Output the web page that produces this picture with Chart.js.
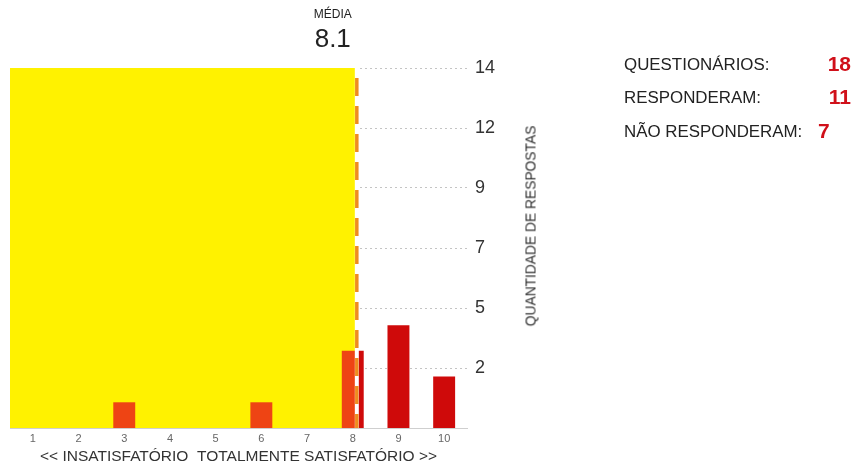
<!DOCTYPE html>
<html>
<head>
<meta charset="utf-8">
<script src="https://cdn.jsdelivr.net/npm/chart.js@4.4.1/dist/chart.umd.min.js"></script>
<style>
  body { margin: 0; background: #fff; font-family: "Liberation Sans", Arial, sans-serif; }
  #wrap { position: relative; width: 858px; height: 472px; overflow: hidden; }
  #chart { position: absolute; left: 0; top: 0; }
  .lbl { position: absolute; left: 624px; font-size: 16.9px; line-height: 16.9px; color: #222; white-space: nowrap; }
  .num { position: absolute; font-size: 21px; line-height: 21px; font-weight: bold; color: #d0101a; white-space: nowrap; }
  #ytitle { position: absolute; left: 531px; top: 226px; transform: translate(-50%, -50%) rotate(-90deg); font-size: 13.8px; color: #333; white-space: nowrap; }
</style>
</head>
<body>
<div id="wrap">
  <canvas id="chart" width="858" height="472"></canvas>
  <div id="ytitle">QUANTIDADE DE RESPOSTAS</div>
  <div id="stats"></div>
</div>
<script>
const CATEGORIES = ['1', '2', '3', '4', '5', '6', '7', '8', '9', '10'];
const COUNTS = [0, 0, 1, 0, 0, 1, 0, 3, 4, 2];
const MEAN = 8.1;
const Y_MAX = 14;
const Y_LABELS = ['2', '5', '7', '9', '12', '14'];
const STAT_LABELS = ['QUESTIONÁRIOS:', 'RESPONDERAM:', 'NÃO RESPONDERAM:'];
const STAT_VALUES = [18, 11, 7];

const YELLOW = '#fff200';
const ORANGE = '#ee4414';
const RED = '#cf0a0a';
const DASH = '#ef8c1e';

// side panel: label rows + numbers
const rowTops = [57, 90, 124];
const numPos = [{ right: 7, top: 53 }, { right: 7, top: 86 }, { left: 818, top: 120 }];
const stats = document.getElementById('stats');
STAT_LABELS.forEach((l, i) => {
  const a = document.createElement('div');
  a.className = 'lbl'; a.style.top = rowTops[i] + 'px'; a.textContent = l;
  stats.appendChild(a);
  const b = document.createElement('div');
  b.className = 'num'; b.style.top = numPos[i].top + 'px';
  if (numPos[i].right != null) b.style.right = numPos[i].right + 'px'; else b.style.left = numPos[i].left + 'px';
  b.textContent = STAT_VALUES[i];
  stats.appendChild(b);
});

function meanX(chart) { return chart.scales.x.getPixelForValue(MEAN - 1); }

function barColor(c) {
  const chart = c.chart, ca = chart.chartArea;
  if (!ca) return RED;
  const stop = Math.min(1, Math.max(0, (meanX(chart) - ca.left) / (ca.right - ca.left)));
  const g = chart.ctx.createLinearGradient(ca.left, 0, ca.right, 0);
  g.addColorStop(0, ORANGE); g.addColorStop(stop, ORANGE);
  g.addColorStop(stop, RED); g.addColorStop(1, RED);
  return g;
}

const meanBand = {
  id: 'meanBand',
  beforeDatasetsDraw(chart) {
    const { ctx, scales: { x, y } } = chart;
    const mx = meanX(chart);
    const top = y.getPixelForValue(Y_MAX), bot = y.getPixelForValue(0);
    const left = x.getPixelForValue(-0.5);
    ctx.save();
    ctx.fillStyle = YELLOW;
    ctx.fillRect(left, top, mx - 2 - left, bot - top);
    ctx.restore();
  },
  afterDatasetsDraw(chart) {
    const { ctx, scales: { y } } = chart;
    const mx = meanX(chart) - 0.5;
    const top = y.getPixelForValue(Y_MAX), bot = y.getPixelForValue(0);
    ctx.save();
    ctx.lineWidth = 4;
    ctx.strokeStyle = '#fff';
    ctx.beginPath(); ctx.moveTo(mx, top); ctx.lineTo(mx, bot); ctx.stroke();
    ctx.strokeStyle = DASH;
    ctx.lineWidth = 3.5;
    ctx.setLineDash([18, 10]);
    ctx.lineDashOffset = 18;
    ctx.beginPath(); ctx.moveTo(mx, top); ctx.lineTo(mx, bot); ctx.stroke();
    ctx.setLineDash([]);
    ctx.fillStyle = '#222';
    ctx.textAlign = 'right';
    ctx.textBaseline = 'alphabetic';
    ctx.font = '12px "Liberation Sans", Arial, sans-serif';
    ctx.fillText('MÉDIA', mx - 5, 18);
    ctx.font = '26px "Liberation Sans", Arial, sans-serif';
    ctx.fillText(MEAN.toFixed(1), mx - 6, 47);
    ctx.restore();
  }
};

new Chart(document.getElementById('chart'), {
  type: 'bar',
  data: {
    labels: CATEGORIES,
    datasets: [{ data: COUNTS, backgroundColor: barColor, borderWidth: 0, categoryPercentage: 1, barPercentage: 0.48 }]
  },
  options: {
    responsive: false, animation: false,
    layout: { padding: { left: 10, top: 68, right: 331, bottom: 6 } },
    plugins: { legend: { display: false }, tooltip: { enabled: false } },
    scales: {
      x: {
        grid: { display: false, drawTicks: false },
        border: { display: true, color: '#cfcfcf', width: 1 },
        ticks: { color: '#666', padding: 4, font: { size: 11, family: '"Liberation Sans", Arial, sans-serif' }, maxRotation: 0 },
        title: { display: true, text: '<< INSATISFATÓRIO  TOTALMENTE SATISFATÓRIO >>', color: '#333', padding: 0, font: { size: 15.5, family: '"Liberation Sans", Arial, sans-serif' } },
        afterFit: s => { s.height = 38; }
      },
      y: {
        position: 'right', min: 0, max: Y_MAX,
        grid: { color: '#c4c4c4', lineWidth: 1, drawTicks: false },
        border: { display: false, dash: [2, 3] },
        afterBuildTicks: s => { s.ticks = Y_LABELS.map((t, i) => ({ value: Y_MAX * (i + 1) / Y_LABELS.length })); },
        ticks: { color: '#333', padding: 8, font: { size: 18, family: '"Liberation Sans", Arial, sans-serif' }, callback: (v, i) => Y_LABELS[i] },
        afterFit: s => { s.width = 60; }
      }
    }
  },
  plugins: [meanBand]
});
</script>
</body>
</html>
